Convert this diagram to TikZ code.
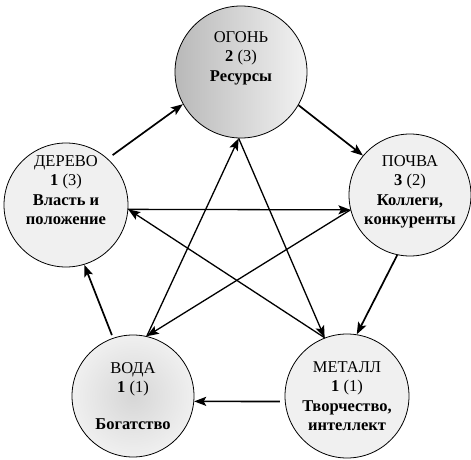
\documentclass[tikz,border=0pt]{standalone}
\usepackage{fontspec}
\setmainfont{Liberation Serif}
\usetikzlibrary{arrows.meta}

\begin{document}
\begin{tikzpicture}[x=1pt,y=-1pt,
elem/.style={circle,draw=black,line width=0.8pt,inner sep=0pt},
txt/.style={align=center,font=\rmfamily\fontsize{16.5}{19.5}\selectfont},
arr/.style={-{Stealth[length=12pt,width=9pt,inset=2.5pt]},line width=1.7pt},
star/.style={-{Stealth[length=12pt,width=9pt,inset=2.5pt]},line width=1.3pt}
]
\useasboundingbox (0,0) rectangle (471,460);
% elements
\node[elem,minimum size=132pt,left color=gray!55,right color=gray!10] (ogon) at (241,72) {};
\node[elem,minimum size=124pt,fill=gray!12] (derevo) at (66,205) {};
\node[elem,minimum size=122pt,fill=gray!12] (pochva) at (410,195) {};
\node[elem,minimum size=122pt,inner color=gray!32,outer color=gray!12] (voda) at (133,396) {};
\node[elem,minimum size=124pt,fill=gray!12] (metall) at (347,396) {};
\node[txt] (ogon-t) at ([yshift=14pt]ogon.center) {ОГОНЬ\\\textbf{2} (3)\\\textbf{Ресурсы}};
\node[txt] (derevo-t) at ([yshift=15pt]derevo.center) {ДЕРЕВО\\\textbf{1} (3)\\\textbf{Власть и}\\\textbf{положение}};
\node[txt] (pochva-t) at ([yshift=3pt]pochva.center) {ПОЧВА\\\textbf{3} (2)\\\textbf{Коллеги,}\\\textbf{конкуренты}};
\node[txt] (voda-t) at (voda.center) {ВОДА\\\textbf{1} (1)\\[17pt]\textbf{Богатство}};
\node[txt] (metall-t) at (metall.center) {МЕТАЛЛ\\\textbf{1} (1)\\\textbf{Творчество,}\\\textbf{интеллект}};
% outer cycle
\draw[arr,shorten <=6pt] (derevo.48) -- (ogon.209);
\draw[arr] (ogon.-30) -- (pochva.140);
\draw[arr] (pochva.-102) -- (metall.81);
\draw[arr,shorten <=5pt] (metall.185) -- (voda.-5);
\draw[arr,shorten <=3pt] (voda.109) -- (derevo.-73);
% star
\draw[star] (derevo.-4) -- (pochva.194);
\draw[star] (pochva.194) -- (voda.77);
\draw[star] (voda.77) -- (ogon.-92);
\draw[star] (ogon.-92) -- (metall.111);
\draw[star] (metall.111) -- (derevo.-4);
\end{tikzpicture}
\end{document}
